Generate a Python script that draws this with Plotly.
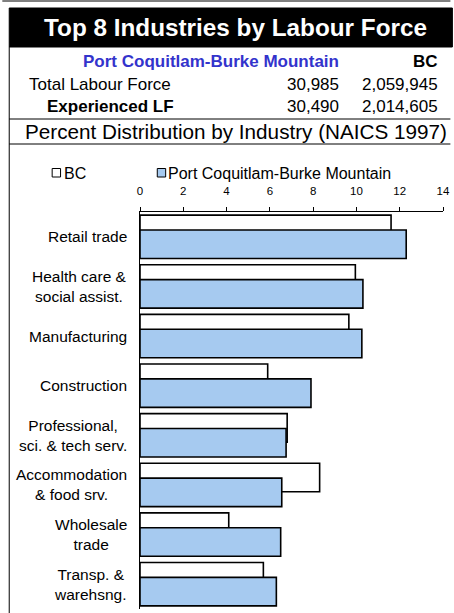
import plotly.graph_objects as go

industries = [
    'Retail trade',
    'Health care &<br>social assist.',
    'Manufacturing',
    'Construction',
    'Professional,<br>sci. & tech serv.',
    'Accommodation<br>& food srv.',
    'Wholesale<br>trade',
    'Transp. &<br>warehsng.',
]
bc_pct = [11.6, 9.95, 9.65, 5.9, 6.8, 8.3, 4.1, 5.7]
poco_pct = [12.3, 10.3, 10.25, 7.9, 6.75, 6.55, 6.5, 6.3]

area_name = 'Port Coquitlam-Burke Mountain'
row_labels = ['Total Labour Force', 'Experienced LF']
area_counts = ['30,985', '30,490']
bc_counts = ['2,059,945', '2,014,605']
x_ticks = [0, 2, 4, 6, 8, 10, 12, 14]

FONT = 'Arial, Liberation Sans, sans-serif'
BLUE = '#A6CAF0'
W, H = 454, 613
L, R, T, B = 139.5, 7.5, 212, 4


def px_x(px):
    return (px - L) / (W - L - R)


def px_y(py):
    return (H - B - py) / (H - T - B)


fig = go.Figure()
fig.add_trace(go.Bar(
    y=industries, x=bc_pct, orientation='h', name='BC',
    width=0.575, offset=-0.437,
    marker=dict(color='white', line=dict(color='black', width=1.6)),
))
fig.add_trace(go.Bar(
    y=industries, x=poco_pct, orientation='h', name=area_name,
    width=0.575, offset=-0.137,
    marker=dict(color=BLUE, line=dict(color='black', width=1.6)),
))

shapes = []


def line(x0, y0, x1, y1, w=1):
    shapes.append(dict(type='line', xref='paper', yref='paper',
                       x0=px_x(x0), y0=px_y(y0), x1=px_x(x1), y1=px_y(y1),
                       line=dict(color='black', width=w)))


def rect(x0, y0, x1, y1, fill, w=1):
    shapes.append(dict(type='rect', xref='paper', yref='paper',
                       x0=px_x(x0), y0=px_y(y0), x1=px_x(x1), y1=px_y(y1),
                       fillcolor=fill, line=dict(color='black', width=w)))


# header frame
line(0, 1, W, 1)
rect(7, 8, W + 2, 47, 'black')
line(7, 47, 7, 119)
line(7, 119, W, 119)
line(7, 119, 7, 144)
line(7, 144, W, 144)
line(7, 144, 7, H)
# legend swatches
rect(50.5, 168.5, 59, 177, 'white')
rect(157, 168.5, 165.5, 177, BLUE)

anns = []


def text(s, x, y, size, anchor='left', color='black', bold=False):
    if bold:
        s = '<b>' + s + '</b>'
    anns.append(dict(text=s, xref='paper', yref='paper', x=px_x(x), y=px_y(y),
                     xanchor=anchor, yanchor='middle', showarrow=False,
                     font=dict(family=FONT, size=size, color=color)))


text('Top 8 Industries by Labour Force', 236, 28, 24.3, 'center', 'white', True)
text(area_name, 343, 62, 17, 'right', '#3333CC', True)
text('BC', 443, 62, 17, 'right', bold=True)
text(row_labels[0], 25, 85, 17)
text(row_labels[1], 43, 107, 17, bold=True)
for i, yy in enumerate([85, 107]):
    text(area_counts[i], 343, yy, 17, 'right')
    text(bc_counts[i], 443, yy, 17, 'right')
text('Percent Distribution by Industry (NAICS 1997)', 236.5, 132, 20.7, 'center')
text('BC', 60, 173, 16)
text(area_name, 166, 173, 16)

for cat in industries:
    anns.append(dict(text=cat, xref='paper', yref='y', x=0, y=cat,
                     xanchor='right', yanchor='middle', xshift=-11,
                     align='center', showarrow=False,
                     font=dict(family=FONT, size=15.5, color='black')))

fig.update_layout(
    width=W, height=H,
    margin=dict(l=L, r=R, t=T, b=B),
    paper_bgcolor='white', plot_bgcolor='white',
    barmode='overlay', showlegend=False,
    font=dict(family=FONT, color='black'),
    shapes=shapes, annotations=anns,
    xaxis=dict(
        side='top', range=[0, 14], tickvals=x_ticks,
        ticks='outside', ticklen=4, tickcolor='black',
        showline=True, linecolor='black', linewidth=1,
        showgrid=False, zeroline=False,
        tickfont=dict(size=11.5, color='black'),
        ticklabelstandoff=7,
    ),
    yaxis=dict(
        autorange='reversed', showticklabels=False,
        showline=True, linecolor='black', linewidth=1,
        showgrid=False, zeroline=False, ticks='',
    ),
)

fig.write_html('out.html', config={'displayModeBar': False},
               post_script="document.body.style.margin='0';")
